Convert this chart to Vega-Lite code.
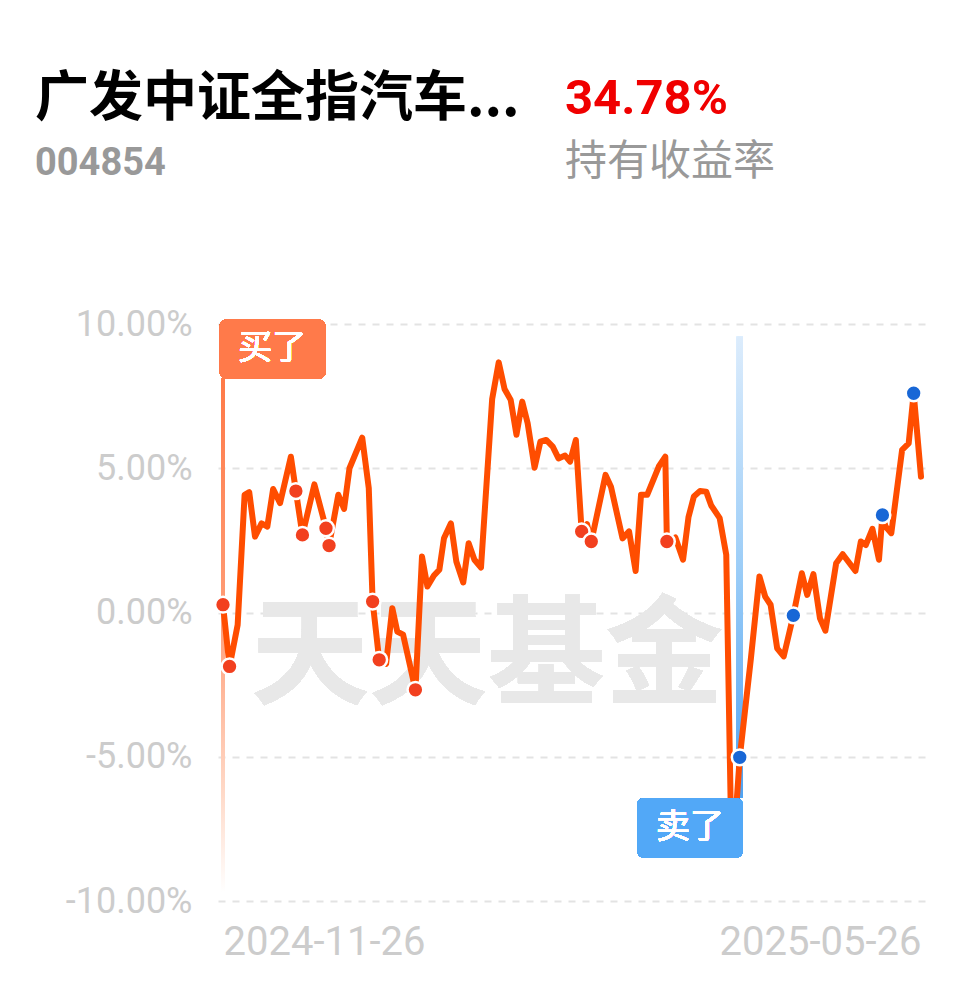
{
  "$schema": "https://vega.github.io/schema/vega-lite/v6.json",
  "background": "white",
  "padding": {"left": 35, "top": 72, "right": 10, "bottom": 10},
  "bounds": "flush",
  "spacing": 132,
  "config": {
    "view": {"stroke": null},
    "axis": {"domain": false, "ticks": false, "grid": false, "labelFont": "Roboto", "labelColor": "#cccccc", "title": null, "labelLimit": 400}
  },
  "vconcat": [
    {
      "hconcat": [
        {
          "width": 337, "height": 1,
          "data": {"values": [{}]},
          "mark": {"type": "text"},
          "encoding": {"text": {"value": ""}},
          "title": {
            "text": "广发中证全指汽车...", "subtitle": "004854",
            "anchor": "start", "dx": -183,
            "font": "Noto Sans CJK SC", "fontSize": 54, "fontWeight": "bold", "color": "#000000",
            "subtitleFont": "Roboto", "subtitleFontSize": 38, "subtitleFontWeight": "bold", "subtitleColor": "#999999",
            "subtitlePadding": 18
          }
        },
        {
          "width": 300, "height": 1,
          "data": {"values": [{}]},
          "mark": {"type": "text"},
          "encoding": {"text": {"value": ""}},
          "title": {
            "text": "34.78%", "subtitle": "持有收益率",
            "anchor": "start",
            "font": "Roboto", "fontSize": 49, "fontWeight": "bold", "color": "#f00000",
            "subtitleFont": "Noto Sans CJK SC", "subtitleFontSize": 42, "subtitleFontWeight": "normal", "subtitleColor": "#999999",
            "subtitlePadding": 18
          }
        }
      ],
      "spacing": 10,
      "bounds": "flush"
    },
    {
      "width": 708,
      "height": 577,
      "data": {"values": [
        {"d":0,"v":0.27,"a":"buy"},
        {"d":1.7,"v":-1.87,"a":"buy"},
        {"d":3.8,"v":-0.43},
        {"d":5.6,"v":4.08},
        {"d":6.8,"v":4.17},
        {"d":8.3,"v":2.63},
        {"d":10.0,"v":3.09},
        {"d":11.5,"v":2.98},
        {"d":13.0,"v":4.28},
        {"d":14.8,"v":3.79},
        {"d":17.6,"v":5.40},
        {"d":18.9,"v":4.21,"a":"buy"},
        {"d":20.6,"v":2.69,"a":"buy"},
        {"d":23.7,"v":4.44},
        {"d":26.7,"v":2.92,"a":"buy"},
        {"d":27.5,"v":2.32,"a":"buy"},
        {"d":29.9,"v":4.08},
        {"d":31.4,"v":3.59},
        {"d":32.8,"v":5.0},
        {"d":36.1,"v":6.06},
        {"d":37.8,"v":4.31},
        {"d":38.8,"v":0.38,"a":"buy"},
        {"d":40.5,"v":-1.64,"a":"buy"},
        {"d":42.3,"v":-1.78},
        {"d":43.9,"v":0.15},
        {"d":45.2,"v":-0.66},
        {"d":46.7,"v":-0.77},
        {"d":49.9,"v":-2.68,"a":"buy"},
        {"d":51.6,"v":1.94},
        {"d":53.0,"v":0.90},
        {"d":54.7,"v":1.28},
        {"d":56.1,"v":1.48},
        {"d":57.3,"v":2.57},
        {"d":59.1,"v":3.09},
        {"d":60.5,"v":1.77},
        {"d":62.3,"v":1.04},
        {"d":63.7,"v":2.40},
        {"d":65.2,"v":1.83},
        {"d":66.9,"v":1.56},
        {"d":69.8,"v":7.40},
        {"d":71.5,"v":8.67},
        {"d":73.0,"v":7.75},
        {"d":74.6,"v":7.37},
        {"d":76.1,"v":6.16},
        {"d":77.6,"v":7.31},
        {"d":79.0,"v":6.56},
        {"d":80.8,"v":5.02},
        {"d":82.3,"v":5.92},
        {"d":83.8,"v":5.98},
        {"d":85.5,"v":5.75},
        {"d":87.0,"v":5.34},
        {"d":88.7,"v":5.44},
        {"d":90.0,"v":5.23},
        {"d":91.5,"v":5.98},
        {"d":93.0,"v":2.81,"a":"buy"},
        {"d":94.4,"v":3.06},
        {"d":95.5,"v":2.46,"a":"buy"},
        {"d":99.2,"v":4.77},
        {"d":100.6,"v":4.36},
        {"d":103.6,"v":2.57},
        {"d":105.3,"v":2.81},
        {"d":107.0,"v":1.44},
        {"d":108.4,"v":4.08},
        {"d":110.0,"v":4.08},
        {"d":113.0,"v":5.06},
        {"d":114.7,"v":5.40},
        {"d":115.1,"v":2.46,"a":"buy"},
        {"d":117.3,"v":2.60},
        {"d":119.3,"v":1.83},
        {"d":120.7,"v":3.30},
        {"d":122.1,"v":4.02},
        {"d":123.7,"v":4.21},
        {"d":125.3,"v":4.19},
        {"d":126.6,"v":3.71},
        {"d":128.8,"v":3.27},
        {"d":130.5,"v":2.0},
        {"d":131.7,"v":-7.07},
        {"d":133.2,"v":-6.55},
        {"d":134.0,"v":-5.02,"a":"sell"},
        {"d":136.9,"v":-1.58},
        {"d":139.1,"v":1.25},
        {"d":140.6,"v":0.55},
        {"d":142.0,"v":0.27},
        {"d":143.7,"v":-1.24},
        {"d":145.4,"v":-1.52},
        {"d":147.9,"v":-0.10,"a":"sell"},
        {"d":150.1,"v":1.36},
        {"d":151.5,"v":0.61},
        {"d":153.1,"v":1.33},
        {"d":154.8,"v":-0.2},
        {"d":156.2,"v":-0.63},
        {"d":159.0,"v":1.71},
        {"d":160.7,"v":2.02},
        {"d":164.0,"v":1.44},
        {"d":165.4,"v":2.46},
        {"d":166.7,"v":2.34},
        {"d":168.4,"v":2.90},
        {"d":170.1,"v":1.83},
        {"d":171.0,"v":3.38,"a":"sell"},
        {"d":171.8,"v":2.98},
        {"d":173.3,"v":2.75},
        {"d":176.1,"v":5.64},
        {"d":177.8,"v":5.86},
        {"d":179.1,"v":7.60,"a":"sell"},
        {"d":181,"v":4.71}
      ]},
      "layer": [
        {
          "mark": {"type": "bar", "width": 4, "color": {"gradient": "linear", "x1": 0, "y1": 0, "x2": 0, "y2": 1,
            "stops": [{"offset": 0, "color": "#ff7a48"}, {"offset": 0.45, "color": "#ff9c76"}, {"offset": 0.8, "color": "#ffd8c6"}, {"offset": 1, "color": "#ffffff"}]}},
          "encoding": {
            "x": {"datum": 0, "type": "quantitative"},
            "y": {"datum": 8.1, "type": "quantitative"},
            "y2": {"datum": -9.7}
          }
        },
        {
          "mark": {"type": "bar", "width": 6, "color": {"gradient": "linear", "x1": 0, "y1": 0, "x2": 0, "y2": 1,
            "stops": [{"offset": 0, "color": "#dcecfc"}, {"offset": 0.5, "color": "#9ccdf7"}, {"offset": 1, "color": "#4fa3f2"}]}},
          "encoding": {
            "x": {"datum": 134.0, "type": "quantitative"},
            "y": {"datum": 9.56, "type": "quantitative"},
            "y2": {"datum": -6.4}
          }
        },
        {
          "mark": {"type": "text", "font": "Noto Sans CJK SC", "fontWeight": "bold", "fontSize": 118, "color": "#e8e8e8", "align": "center", "baseline": "middle"},
          "encoding": {
            "x": {"datum": 68.5, "type": "quantitative"},
            "y": {"datum": -1.63, "type": "quantitative"},
            "text": {"value": "天天基金"}
          }
        },
        {
          "mark": {"type": "line", "color": "#ff4d00", "strokeWidth": 6, "strokeJoin": "round", "strokeCap": "round"},
          "encoding": {
            "x": {"field": "d", "type": "quantitative", "scale": {"domain": [0, 181], "nice": false, "zero": false},
              "axis": {"values": [0, 181], "labelExpr": "datum.value == 0 ? '2024-11-26' : '2025-05-26'",
                "labelAlign": {"condition": {"test": "datum.value == 0", "value": "left"}, "value": "right"},
                "labelFontSize": 40, "labelPadding": 21, "grid": false}},
            "y": {"field": "v", "type": "quantitative", "scale": {"domain": [-10, 10], "nice": false, "zero": false},
              "axis": {"values": [-10, -5, 0, 5, 10], "labelExpr": "(datum.value < 0 ? '-' : '') + format(abs(datum.value), '.2f') + '%'", "labelFontSize": 36, "labelPadding": 26, "grid": true, "gridDash": [7, 7], "gridColor": "#e3e3e3", "gridWidth": 2}}
          }
        },
        {
          "mark": {"type": "rect", "cornerRadius": 7, "color": "#52a8f6", "opacity": 0.93},
          "encoding": {
            "x": {"datum": 107.4, "type": "quantitative"},
            "x2": {"datum": 134.8},
            "y": {"datum": -6.43, "type": "quantitative"},
            "y2": {"datum": -8.5}
          }
        },
        {
          "mark": {"type": "text", "font": "Noto Sans CJK SC", "fontSize": 34, "color": "#ffffff", "align": "center", "baseline": "middle"},
          "encoding": {
            "x": {"datum": 121.1, "type": "quantitative"},
            "y": {"datum": -7.47, "type": "quantitative"},
            "text": {"value": "卖了"}
          }
        },
        {
          "transform": [{"filter": "datum.a != null"}],
          "mark": {"type": "point", "filled": true, "size": 250, "stroke": "#ffffff", "strokeWidth": 2.5, "opacity": 1},
          "encoding": {
            "x": {"field": "d", "type": "quantitative"},
            "y": {"field": "v", "type": "quantitative"},
            "color": {"field": "a", "type": "nominal", "scale": {"domain": ["buy", "sell"], "range": ["#f2401f", "#1867d6"]}, "legend": null}
          }
        },
        {
          "mark": {"type": "rect", "cornerRadius": 7, "color": "#ff7a4a"},
          "encoding": {
            "x": {"datum": -0.85, "type": "quantitative"},
            "x2": {"datum": 26.6},
            "y": {"datum": 10.16, "type": "quantitative"},
            "y2": {"datum": 8.1}
          }
        },
        {
          "mark": {"type": "text", "font": "Noto Sans CJK SC", "fontSize": 34, "color": "#ffffff", "align": "center", "baseline": "middle"},
          "encoding": {
            "x": {"datum": 12.8, "type": "quantitative"},
            "y": {"datum": 9.14, "type": "quantitative"},
            "text": {"value": "买了"}
          }
        }
      ]
    }
  ]
}
